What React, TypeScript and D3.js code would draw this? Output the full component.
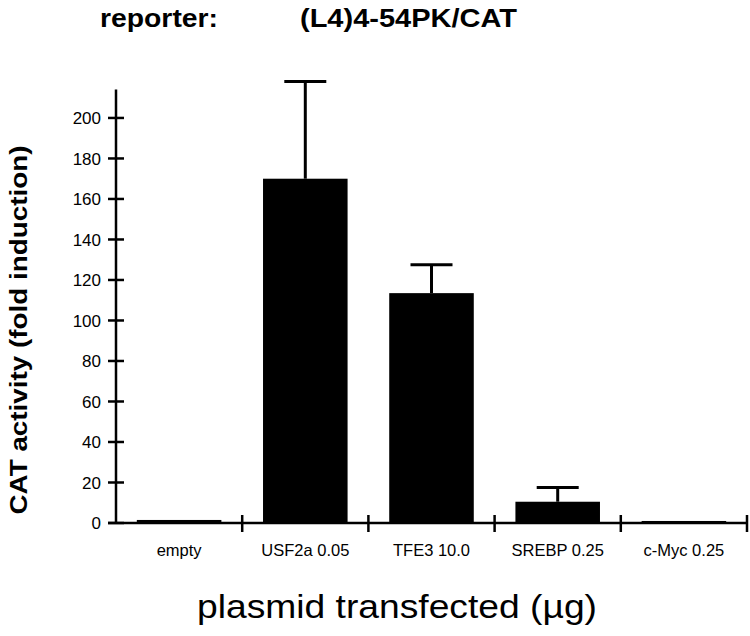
import React, { useEffect, useRef } from 'react';
import * as d3 from 'd3';

// values
const plasmids = ['empty', 'USF2a 0.05', 'TFE3 10.0', 'SREBP 0.25', 'c-Myc 0.25'];
const foldInduction = [1.5, 170, 113.5, 10.5, 1];
const errorUp = [0, 48, 14, 7, 0];
const yTicks = [0, 20, 40, 60, 80, 100, 120, 140, 160, 180, 200];

const FONT = "'Liberation Sans', Arial, Helvetica, sans-serif";

export default function App() {
  const ref = useRef<SVGSVGElement>(null);

  useEffect(() => {
    const width = 750;
    const height = 636;
    const svg = d3.select(ref.current);
    svg.selectAll('*').remove();
    svg.attr('width', width).attr('height', height);

    const x = d3.scaleBand()
      .domain(plasmids)
      .range([116, 747])
      .paddingInner(0.33)
      .paddingOuter(0.165);

    const y = d3.scaleLinear()
      .domain([0, 214])
      .range([523, 89.6]);

    // bars
    svg.selectAll('rect.bar')
      .data(plasmids)
      .enter()
      .append('rect')
      .attr('class', 'bar')
      .attr('x', d => x(d)!)
      .attr('y', (d, i) => y(foldInduction[i]))
      .attr('width', x.bandwidth())
      .attr('height', (d, i) => y(0) - y(foldInduction[i]))
      .style('fill', '#000');

    // error bars (upper only)
    const errs = plasmids
      .map((d, i) => ({ name: d, v: foldInduction[i], e: errorUp[i] }))
      .filter(d => d.e > 0);

    const eg = svg.append('g').attr('stroke', '#000').attr('stroke-width', 3);
    eg.selectAll('line.stem')
      .data(errs)
      .enter()
      .append('line')
      .attr('x1', d => x(d.name)! + x.bandwidth() / 2)
      .attr('x2', d => x(d.name)! + x.bandwidth() / 2)
      .attr('y1', d => y(d.v))
      .attr('y2', d => y(d.v + d.e));
    eg.selectAll('line.cap')
      .data(errs)
      .enter()
      .append('line')
      .attr('x1', d => x(d.name)! + x.bandwidth() / 2 - 21)
      .attr('x2', d => x(d.name)! + x.bandwidth() / 2 + 21)
      .attr('y1', d => y(d.v + d.e))
      .attr('y2', d => y(d.v + d.e));

    // y axis
    const ya = svg.append('g').attr('stroke', '#000').attr('stroke-width', 2.5);
    ya.append('line')
      .attr('x1', 116).attr('x2', 116)
      .attr('y1', y(0)).attr('y2', y(214));
    ya.selectAll('line.tick')
      .data(yTicks)
      .enter()
      .append('line')
      .attr('x1', 108).attr('x2', 124)
      .attr('y1', d => y(d)).attr('y2', d => y(d));

    svg.append('g')
      .selectAll('text')
      .data(yTicks)
      .enter()
      .append('text')
      .attr('x', 101)
      .attr('y', d => y(d))
      .attr('dy', '0.36em')
      .attr('text-anchor', 'end')
      .style('font-family', FONT)
      .style('font-size', '17px')
      .text(d => d);

    // x axis
    const xa = svg.append('g').attr('stroke', '#000').attr('stroke-width', 2.5);
    xa.append('line')
      .attr('x1', 108).attr('x2', 747)
      .attr('y1', y(0)).attr('y2', y(0));
    const bounds = plasmids.map(d => x(d)! - x.step() * x.paddingInner() / 2);
    bounds.push(747);
    xa.selectAll('line.tick')
      .data(bounds.slice(1))
      .enter()
      .append('line')
      .attr('x1', d => d).attr('x2', d => d)
      .attr('y1', y(0) - 8).attr('y2', y(0) + 9);

    svg.append('g')
      .selectAll('text')
      .data(plasmids)
      .enter()
      .append('text')
      .attr('x', d => x(d)! + x.bandwidth() / 2)
      .attr('y', 556)
      .attr('text-anchor', 'middle')
      .style('font-family', FONT)
      .style('font-size', '16.5px')
      .text(d => d);

    // titles
    svg.append('text')
      .attr('x', 100).attr('y', 27)
      .attr('textLength', 118)
      .attr('lengthAdjust', 'spacingAndGlyphs')
      .style('font-family', FONT)
      .style('font-weight', 'bold')
      .style('font-size', '25px')
      .text('reporter:');
    svg.append('text')
      .attr('x', 300).attr('y', 27)
      .attr('textLength', 217)
      .attr('lengthAdjust', 'spacingAndGlyphs')
      .style('font-family', FONT)
      .style('font-weight', 'bold')
      .style('font-size', '25px')
      .text('(L4)4-54PK/CAT');

    svg.append('text')
      .attr('transform', 'translate(27, 330) rotate(-90)')
      .attr('text-anchor', 'middle')
      .attr('textLength', 369)
      .attr('lengthAdjust', 'spacingAndGlyphs')
      .style('font-family', FONT)
      .style('font-weight', 'bold')
      .style('font-size', '23px')
      .text('CAT activity (fold induction)');

    svg.append('text')
      .attr('x', 197).attr('y', 618)
      .attr('textLength', 400)
      .attr('lengthAdjust', 'spacingAndGlyphs')
      .style('font-family', FONT)
      .style('font-size', '33px')
      .text('plasmid transfected (\u00b5g)');
  }, []);

  return (
    <svg ref={ref} style={{ position: 'absolute', left: 0, top: 0, background: '#fff' }} />
  );
}
